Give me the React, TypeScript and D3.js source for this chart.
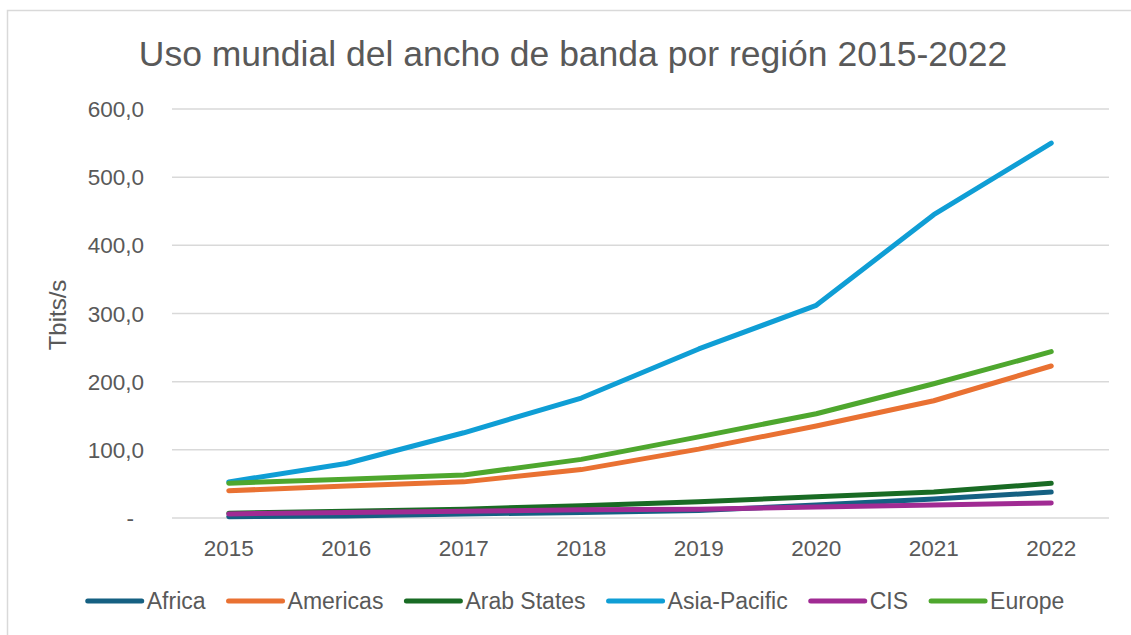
import React, { useEffect, useRef } from 'react';
import * as d3 from 'd3';

const years = ['2015', '2016', '2017', '2018', '2019', '2020', '2021', '2022'];

const africa = [2, 3, 6, 8, 11, 19, 28, 38];
const americas = [40, 47, 53, 71, 101, 135, 172, 223];
const arabStates = [7, 10, 13, 18, 24, 31, 38, 51];
const asiaPacific = [53, 80, 125, 176, 248, 312, 445, 550];
const cis = [6, 8, 10, 12, 13, 16, 19, 22];
const europe = [51, 57, 63, 86, 119, 153, 197, 244];

const seriesNames = ['Africa', 'Americas', 'Arab States', 'Asia-Pacific', 'CIS', 'Europe'];
const seriesColors = ['#156082', '#E97132', '#196B24', '#0F9ED5', '#A02B93', '#4EA72E'];
const yTicks = [0, 100, 200, 300, 400, 500, 600];

const W = 1131;
const H = 635;
const FONT = '"Liberation Sans", Arial, sans-serif';
const TEXT = '#595959';

function App() {
  const ref = useRef<SVGSVGElement>(null);

  useEffect(() => {
    const svg = d3.select(ref.current);
    svg.selectAll('*').remove();

    const allSeries = [africa, americas, arabStates, asiaPacific, cis, europe];

    // chart frame
    svg.append('rect')
      .attr('x', 7.5).attr('y', 10.5)
      .attr('width', W + 20).attr('height', H + 20)
      .attr('fill', '#fff')
      .attr('stroke', '#D9D9D9')
      .attr('stroke-width', 1.5);

    const x = d3.scaleBand().domain(years).range([170, 1110]);
    const y = d3.scaleLinear().domain([0, 600]).range([518, 109]);

    // gridlines
    svg.append('g')
      .selectAll('line')
      .data(yTicks)
      .enter()
      .append('line')
      .attr('x1', 172).attr('x2', 1109)
      .attr('y1', d => y(d)).attr('y2', d => y(d))
      .attr('stroke', '#D9D9D9')
      .attr('stroke-width', 1.5);

    // y tick labels
    svg.append('g')
      .selectAll('text')
      .data(yTicks)
      .enter()
      .append('text')
      .attr('x', d => (d === 0 ? 134 : 144))
      .attr('y', d => y(d) + 8)
      .attr('text-anchor', 'end')
      .attr('font-family', FONT)
      .attr('font-size', 22.5)
      .attr('fill', TEXT)
      .text(d => (d === 0 ? '-' : d3.format('.1f')(d).replace('.', ',')));

    // x tick labels
    svg.append('g')
      .selectAll('text')
      .data(years)
      .enter()
      .append('text')
      .attr('x', d => (x(d) as number) + x.bandwidth() / 2)
      .attr('y', 556)
      .attr('text-anchor', 'middle')
      .attr('font-family', FONT)
      .attr('font-size', 22.5)
      .attr('fill', TEXT)
      .text(d => d);

    // y axis title
    svg.append('text')
      .attr('transform', 'translate(66,315) rotate(-90)')
      .attr('text-anchor', 'middle')
      .attr('font-family', FONT)
      .attr('font-size', 24)
      .attr('fill', TEXT)
      .text('Tbits/s');

    // title
    svg.append('text')
      .attr('x', 573)
      .attr('y', 66)
      .attr('text-anchor', 'middle')
      .attr('font-family', FONT)
      .attr('font-size', 35.5)
      .attr('fill', TEXT)
      .text('Uso mundial del ancho de banda por región 2015-2022');

    const line = d3.line<number>()
      .x((_, i) => (x(years[i]) as number) + x.bandwidth() / 2)
      .y(d => y(d));

    svg.append('g')
      .selectAll('path')
      .data(allSeries)
      .enter()
      .append('path')
      .attr('d', d => line(d))
      .attr('fill', 'none')
      .attr('stroke', (_, i) => seriesColors[i])
      .attr('stroke-width', 5)
      .attr('stroke-linecap', 'round')
      .attr('stroke-linejoin', 'round');

    // legend
    const legend = svg.append('g');
    const items = legend.selectAll('g')
      .data(seriesNames)
      .enter()
      .append('g');
    items.append('line')
      .attr('x1', 0).attr('x2', 54)
      .attr('y1', 0).attr('y2', 0)
      .attr('stroke', (_, i) => seriesColors[i])
      .attr('stroke-width', 5)
      .attr('stroke-linecap', 'round');
    items.append('text')
      .attr('x', 59)
      .attr('y', 8)
      .attr('font-family', FONT)
      .attr('font-size', 23)
      .attr('fill', TEXT)
      .text(d => d);

    const widths: number[] = [];
    items.each(function () {
      const t = d3.select(this).select('text').node() as SVGTextElement;
      widths.push(59 + t.getComputedTextLength());
    });
    const gap = 23;
    const total = d3.sum(widths) + gap * (widths.length - 1);
    let cur = 576 - total / 2;
    items.attr('transform', (_, i) => {
      const tx = cur;
      cur += widths[i] + gap;
      return `translate(${tx},601)`;
    });
  }, []);

  return <svg ref={ref} width={W} height={H} style={{ display: 'block', position: 'absolute', left: 0, top: 0 }} />;
}

export default App;
